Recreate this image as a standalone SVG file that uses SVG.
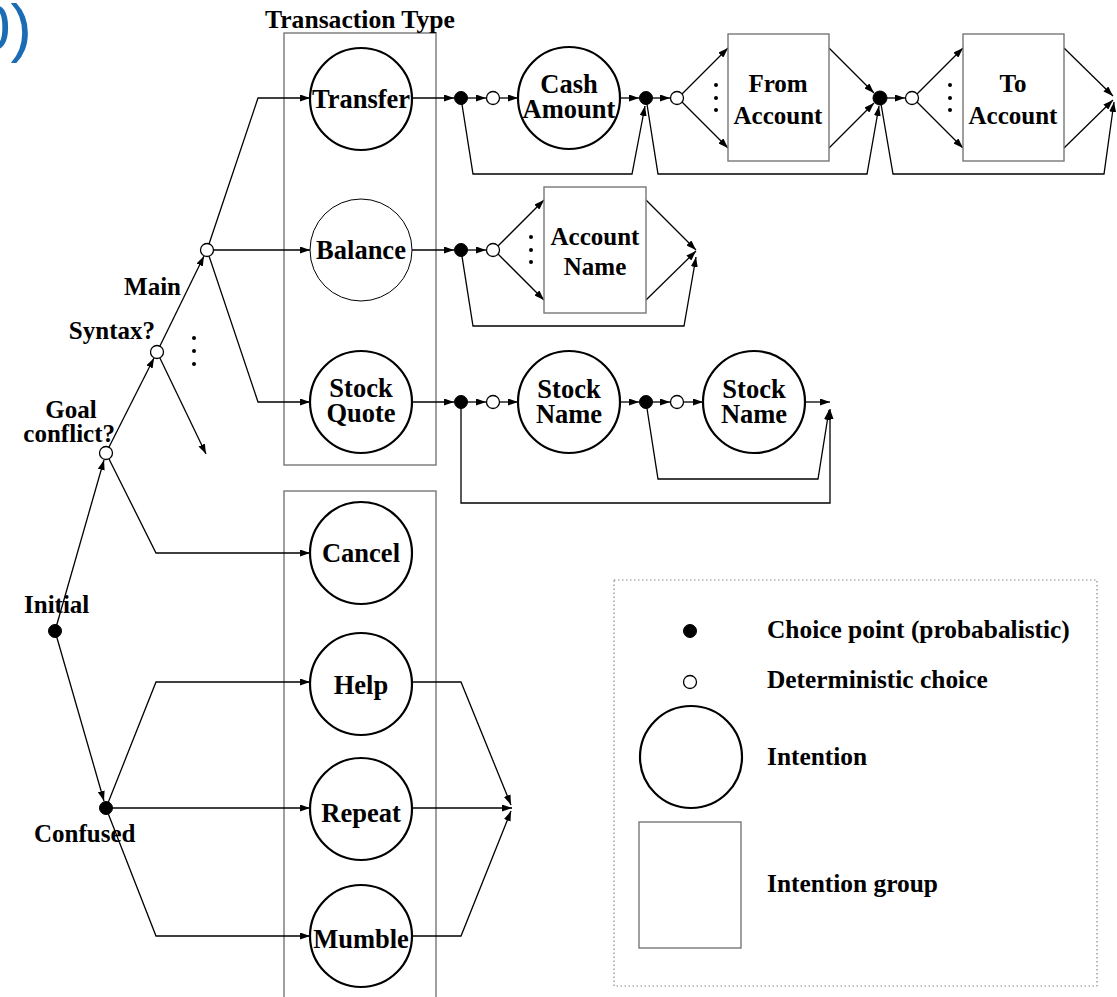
<svg xmlns="http://www.w3.org/2000/svg" width="1117" height="997" viewBox="0 0 1117 997">
<defs>
<marker id="ah" markerWidth="10" markerHeight="7" refX="10" refY="3.5" orient="auto" markerUnits="userSpaceOnUse">
<path d="M0,0 L10,3.5 L0,7 z" fill="#000"/>
</marker>
<style>
text{font-family:"Liberation Serif","Times New Roman",serif;font-weight:bold;font-size:25px;fill:#000}
.c{text-anchor:middle}
.r{text-anchor:end}
.i{font-size:26.5px}
.lg{font-size:25.4px}
.big{fill:#fff;stroke:#000;stroke-width:2.2}
.thin{fill:#fff;stroke:#000;stroke-width:1}
.grp{fill:none;stroke:#777;stroke-width:1.4}
.box{fill:#fff;stroke:#777;stroke-width:1.4}
.bd{fill:#000;stroke:#000;stroke-width:1}
.wd{fill:#fff;stroke:#000;stroke-width:1.3}
.ar{fill:none;stroke:#000;stroke-width:1.3;marker-end:url(#ah)}
.dots{fill:#000}
</style>
</defs>
<rect width="1117" height="997" fill="#fff"/>
<text x="-25" y="50" style="font-family:'Liberation Sans',Arial,sans-serif;font-weight:normal;font-size:64px;fill:#1b6cb5">0)</text>

<g id="groups">
<rect id="transaction-type-box" class="grp" x="284" y="33" width="152" height="432"/>
<text x="360" y="28" class="c" style="font-size:25.6px">Transaction Type</text>
<rect id="other-box" class="grp" x="284" y="491" width="152" height="520"/>
</g>

<g id="connectors">
<path class="ar" d="M55,631 L104,460"/>
<path class="ar" d="M106,453 L154,358"/>
<path class="ar" d="M157,352 L204,256"/>
<path class="ar" d="M157,352 L206,454"/>
<path class="ar" d="M207,250 L258,98 H310"/>
<path class="ar" d="M207,250 H310"/>
<path class="ar" d="M207,250 L258,402 H310"/>
<path class="ar" d="M106,453 L156,553 H310"/>
<path class="ar" d="M55,631 L104,801"/>
<path class="ar" d="M106,808 L156,682 H310"/>
<path class="ar" d="M106,808 H310"/>
<path class="ar" d="M106,808 L156,936 H310"/>
<path class="ar" d="M411,682 H461 L511,805"/>
<path class="ar" d="M411,808 H512"/>
<path class="ar" d="M411,936 H461 L511,811"/>
<path class="ar" d="M412,98 H454"/>
<path class="ar" d="M468,98 H486"/>
<path class="ar" d="M500,98 H518"/>
<path class="ar" d="M621,98 H639"/>
<path class="ar" d="M653,98 H670"/>
<path class="ar" d="M682,94 L728,48"/>
<path class="ar" d="M682,102 L728,148"/>
<path class="ar" d="M829,48 L874,93"/>
<path class="ar" d="M829,148 L874,103"/>
<path class="ar" d="M887,98 H905"/>
<path class="ar" d="M917,94 L963,48"/>
<path class="ar" d="M917,102 L963,148"/>
<path class="ar" d="M1064,48 L1113,96"/>
<path class="ar" d="M1064,148 L1113,100"/>
<path class="ar" d="M461,98 L473,174 H632 L645,106"/>
<path class="ar" d="M646,98 L658,174 H867 L879,106"/>
<path class="ar" d="M880,98 L893,174 H1104 L1114,102"/>
<path class="ar" d="M412,250 H454"/>
<path class="ar" d="M468,250 H486"/>
<path class="ar" d="M498,246 L544,200"/>
<path class="ar" d="M498,254 L544,300"/>
<path class="ar" d="M646,200 L696,250"/>
<path class="ar" d="M646,300 L696,251"/>
<path class="ar" d="M461,250 L473,326 H684 L696,257"/>
<path class="ar" d="M412,402 H454"/>
<path class="ar" d="M468,402 H486"/>
<path class="ar" d="M500,402 H518"/>
<path class="ar" d="M621,402 H639"/>
<path class="ar" d="M653,402 H670"/>
<path class="ar" d="M684,402 H703"/>
<path class="ar" d="M805,402 H830"/>
<path class="ar" d="M646,402 L658,479 H818 L829,410"/>
<path class="ar" d="M461,402 V503 H830 V409"/>
</g>

<g id="node-main"><circle class="wd" cx="207" cy="250" r="6.5"/><text x="181" y="295" class="r">Main</text></g>
<g id="node-syntax"><circle class="wd" cx="157" cy="352" r="6.5"/><text x="155" y="339" class="r">Syntax?</text></g>
<g id="node-syntax-dots"><circle class="dots" cx="194" cy="338" r="2"/><circle class="dots" cx="194" cy="351" r="2"/><circle class="dots" cx="194" cy="364" r="2"/></g>
<g id="node-goal"><circle class="wd" cx="106" cy="453" r="6.5"/><text x="71" y="418" class="c">Goal</text><text x="115" y="442" class="r">conflict?</text></g>
<g id="node-initial"><circle class="bd" cx="55" cy="631" r="6.5"/><text x="24" y="613">Initial</text></g>
<g id="node-confused"><circle class="bd" cx="106" cy="808" r="6.5"/><text x="34" y="842">Confused</text></g>

<g id="node-transfer"><circle class="big" cx="361" cy="99" r="51"/><text x="361" y="108" class="c i">Transfer</text></g>
<g id="node-balance"><circle class="thin" cx="361" cy="250" r="51"/><text x="361" y="259" class="c i">Balance</text></g>
<g id="node-stockquote"><circle class="big" cx="361" cy="402" r="51"/><text x="361" y="397" class="c i">Stock</text><text x="361" y="422" class="c i">Quote</text></g>
<g id="node-cancel"><circle class="big" cx="361" cy="553" r="51"/><text x="361" y="562" class="c i">Cancel</text></g>
<g id="node-help"><circle class="big" cx="361" cy="684" r="51"/><text x="361" y="694" class="c i">Help</text></g>
<g id="node-repeat"><circle class="big" cx="361" cy="809" r="51"/><text x="361" y="822" class="c i">Repeat</text></g>
<g id="node-mumble"><circle class="big" cx="361" cy="936" r="51"/><text x="361" y="948" class="c i">Mumble</text></g>

<g id="node-t-dots"><circle class="bd" cx="461" cy="98" r="6.5"/><circle class="wd" cx="493" cy="98" r="6.5"/></g>
<g id="node-cash"><circle class="big" cx="569" cy="98" r="51"/><text x="569" y="93" class="c i">Cash</text><text x="569" y="118" class="c i">Amount</text></g>
<g id="node-t-dots2"><circle class="bd" cx="646" cy="98" r="6.5"/><circle class="wd" cx="677" cy="98" r="6.5"/></g>
<g id="node-from"><rect class="box" x="728" y="34" width="101" height="127"/><text x="778" y="92" class="c">From</text><text x="778" y="124" class="c">Account</text>
<circle class="dots" cx="716" cy="85" r="2"/><circle class="dots" cx="716" cy="98" r="2"/><circle class="dots" cx="716" cy="110" r="2"/></g>
<g id="node-t-dots3"><circle class="bd" cx="880" cy="98" r="7"/><circle class="wd" cx="912" cy="98" r="6.5"/></g>
<g id="node-to"><rect class="box" x="963" y="34" width="101" height="127"/><text x="1013" y="92" class="c">To</text><text x="1013" y="124" class="c">Account</text>
<circle class="dots" cx="950" cy="85" r="2"/><circle class="dots" cx="950" cy="98" r="2"/><circle class="dots" cx="950" cy="110" r="2"/></g>

<g id="node-b-dots"><circle class="bd" cx="461" cy="250" r="6.5"/><circle class="wd" cx="493" cy="250" r="6.5"/></g>
<g id="node-accountname"><rect class="box" x="544" y="187" width="102" height="126"/><text x="595" y="245" class="c">Account</text><text x="595" y="275" class="c">Name</text>
<circle class="dots" cx="531" cy="237" r="2"/><circle class="dots" cx="531" cy="250" r="2"/><circle class="dots" cx="531" cy="262" r="2"/></g>

<g id="node-s-dots"><circle class="bd" cx="461" cy="402" r="6.5"/><circle class="wd" cx="493" cy="402" r="6.5"/></g>
<g id="node-stockname1"><circle class="big" cx="569" cy="402" r="51"/><text x="569" y="398" class="c i">Stock</text><text x="569" y="423" class="c i">Name</text></g>
<g id="node-s-dots2"><circle class="bd" cx="646" cy="402" r="6.5"/><circle class="wd" cx="677" cy="402" r="6.5"/></g>
<g id="node-stockname2"><circle class="big" cx="754" cy="402" r="51"/><text x="754" y="398" class="c i">Stock</text><text x="754" y="423" class="c i">Name</text></g>

<g id="legend">
<rect x="614" y="580" width="483" height="406" fill="none" stroke="#888" stroke-width="1.2" stroke-dasharray="1.5,2.5"/>
<circle class="bd" cx="690" cy="631" r="6.5"/><text x="767" y="638" class="lg">Choice point (probabalistic)</text>
<circle class="wd" cx="690" cy="682" r="6.5"/><text x="767" y="688" class="lg">Deterministic choice</text>
<circle class="big" cx="691" cy="757" r="51"/><text x="767" y="765" class="lg">Intention</text>
<rect class="box" x="639" y="822" width="102" height="126"/><text x="767" y="892" class="lg">Intention group</text>
</g>
</svg>
